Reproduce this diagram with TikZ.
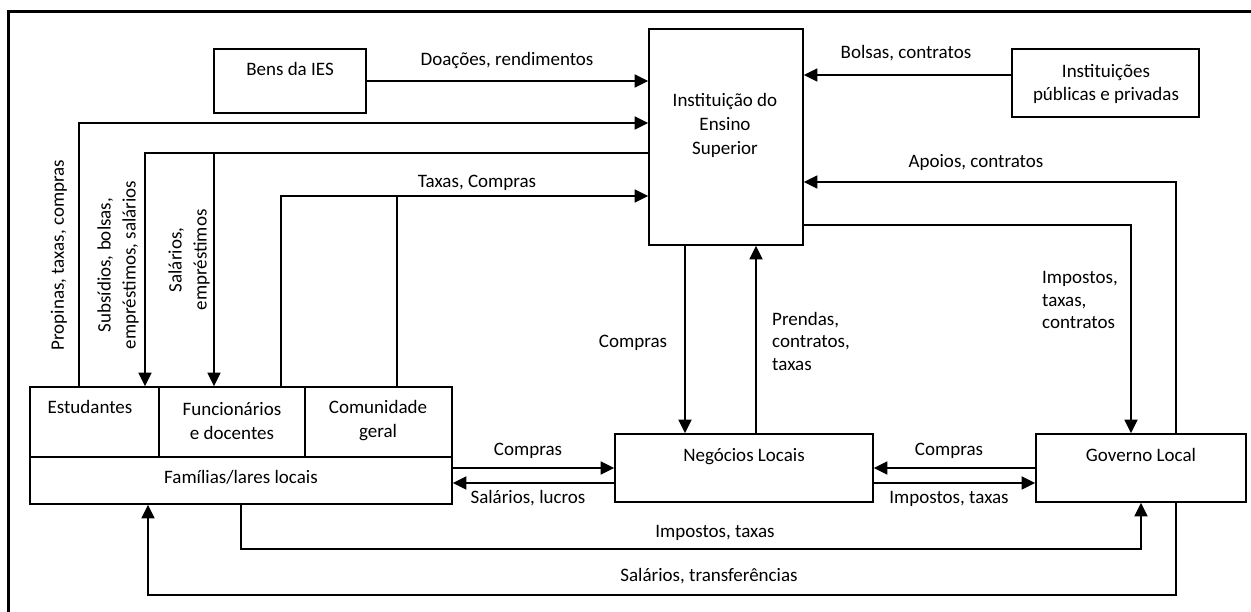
\documentclass[tikz,border=0pt]{standalone}
\usepackage{fontspec}
\setmainfont{Carlito}
\usetikzlibrary{arrows.meta,calc}
\begin{document}
\begin{tikzpicture}[x=1pt,y=-1pt,
  box/.style={draw,line width=1.8pt,inner sep=0pt},
  txt/.style={font=\fontsize{19}{24}\selectfont,inner sep=0pt,text height=14pt,text depth=4.5pt},
  mtxt/.style={font=\fontsize{19}{24}\selectfont,inner sep=0pt,align=center},
  mtxtb/.style={font=\fontsize{19}{22.5}\selectfont,inner sep=0pt,align=center},
  mtxtc/.style={font=\fontsize{19}{25}\selectfont,inner sep=0pt,align=center},
  ln/.style={line width=1.8pt},
  arr/.style={line width=1.8pt,-{Triangle[length=13.5pt,width=13pt]}}]
\useasboundingbox (0,0) rectangle (1251,612);
\fill[white] (0,0) rectangle (1251,612);
\draw[line width=3pt] (8,625) -- (8,12) -- (1260,12);
% boxes
\node[box,minimum width=152pt,minimum height=64pt] (bens) at (290,81) {};
\node[txt] (tbens) at (290,71) {Bens da IES};
\node[box,minimum width=154pt,minimum height=216pt] (ies) at (726,137) {};
\node[mtxt] (ties) at (725,125) {Instituição do\\Ensino\\Superior};
\node[box,minimum width=187pt,minimum height=68pt] (inst) at (1105.5,83) {};
\node[mtxtb] (tinst) at (1106,84) {Instituições\\públicas e privadas};
\node[box,minimum width=129pt,minimum height=70pt] (est) at (94.5,422) {};
\node[txt] (test) at (90,409) {Estudantes};
\node[box,minimum width=146pt,minimum height=70pt] (func) at (232,422) {};
\node[mtxt] (tfunc) at (232,421) {Funcionários\\e docentes};
\node[box,minimum width=147pt,minimum height=70pt] (com) at (378.5,422) {};
\node[mtxt] (tcom) at (378,421) {Comunidade\\geral};
\node[box,minimum width=422pt,minimum height=47pt] (fam) at (241,480.5) {};
\node[txt] (tfam) at (241,479) {Famílias/lares locais};
\node[box,minimum width=258pt,minimum height=68pt] (neg) at (744,468) {};
\node[txt] (tneg) at (744,457) {Negócios Locais};
\node[box,minimum width=210pt,minimum height=68pt] (gov) at (1141,468) {};
\node[txt] (tgov) at (1141,457) {Governo Local};
% helper coordinates
\coordinate (p1) at (79,123);
\coordinate (s1) at (145,153);
\coordinate (s2) at (214,153);
\coordinate (t1) at (281,196);
\coordinate (t2) at (397,196);
\coordinate (c1) at (685,300);
\coordinate (c2) at (756,300);
\coordinate (g1) at (1131,225);
\coordinate (g2) at (1176,182);
\coordinate (b1) at (900,75);
\coordinate (h1) at (500,468);
\coordinate (h2) at (500,483);
\coordinate (i1) at (241,549);
\coordinate (w1) at (1176,595);
\coordinate (w2) at (148,595);
% connectors
\draw[arr] (bens.east) -- (bens.east -| ies.west);
\draw[arr] (b1 -| inst.west) -- (b1 -| ies.east);
\draw[arr] (est.north -| p1) -- (p1) -- (p1 -| ies.west);
\draw[arr] (s1 -| ies.west) -- (s1) -- (est.north -| s1);
\draw[arr] (s2) -- (func.north -| s2);
\draw[arr] (func.north -| t1) -- (t1) -- (t1 -| ies.west);
\draw[ln] (com.north -| t2) -- (t2);
\draw[arr] (ies.south -| c1) -- (neg.north -| c1);
\draw[arr] (neg.north -| c2) -- (ies.south -| c2);
\draw[arr] (g1 -| ies.east) -- (g1) -- (gov.north -| g1);
\draw[arr] (gov.north -| g2) -- (g2) -- (g2 -| ies.east);
\draw[arr] (h1 -| fam.east) -- (h1 -| neg.west);
\draw[arr] (h2 -| neg.west) -- (h2 -| fam.east);
\draw[arr] (h1 -| gov.west) -- (h1 -| neg.east);
\draw[arr] (h2 -| neg.east) -- (h2 -| gov.west);
\draw[arr] (fam.south) -- (fam.south |- i1) -| (gov.south);
\draw[arr] (gov.south -| w1) -- (w1) -- (w2) -- (fam.south -| w2);
% labels
\node[txt] (l1) at (507,61) {Doações, rendimentos};
\node[txt] (l2) at (906,54) {Bolsas, contratos};
\node[txt] (l3) at (976,163) {Apoios, contratos};
\node[txt] (l4) at (477,183) {Taxas, Compras};
\node[txt,rotate=90] (l5) at (59,255) {Propinas, taxas, compras};
\node[mtxtc,rotate=90] (l6) at (118,265) {Subsídios, bolsas,\\empréstimos, salários};
\node[mtxtc,rotate=90] (l7) at (189,260) {Salários,\\empréstimos};
\node[txt] (l8) at (633,343) {Compras};
\node[mtxtb,align=left,anchor=west] (l9) at (772,341) {Prendas,\\contratos,\\taxas};
\node[mtxtb,align=left,anchor=west] (l10) at (1042,300) {Impostos,\\taxas,\\contratos};
\node[txt] (l11) at (528,451) {Compras};
\node[txt] (l12) at (528,499) {Salários, lucros};
\node[txt] (l13) at (949,451) {Compras};
\node[txt] (l14) at (949,499) {Impostos, taxas};
\node[txt] (l15) at (715,533) {Impostos, taxas};
\node[txt] (l16) at (709,577) {Salários, transferências};
\end{tikzpicture}
\end{document}
